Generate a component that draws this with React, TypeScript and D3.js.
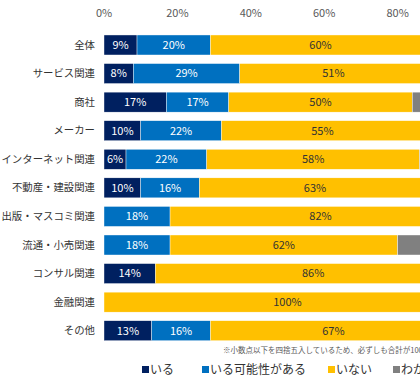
import React, { useEffect, useRef } from 'react';
import * as d3 from 'd3';

const categories = ['全体', 'サービス関連', '商社', 'メーカー', 'インターネット関連', '不動産・建設関連', '出版・マスコミ関連', '流通・小売関連', 'コンサル関連', '金融関連', 'その他'];
const iru = [9, 8, 17, 10, 6, 10, 0, 0, 14, 0, 13];
const kanousei = [20, 29, 17, 22, 22, 16, 18, 18, 0, 0, 16];
const inai = [60, 51, 50, 55, 58, 63, 82, 62, 86, 100, 67];
const wakaranai = [11, 12, 16, 13, 14, 11, 0, 20, 0, 0, 4];
const seriesNames = ['いる', 'いる可能性がある', 'いない', 'わからない'];
const ticks = [0, 20, 40, 60, 80, 100];
const note = '※小数点以下を四捨五入しているため、必ずしも合計が100%にならない';

const colors = ['#002060', '#0070C0', '#FFC000', '#808080'];
const textColors = ['#ffffff', '#ffffff', '#333333', '#ffffff'];
const font = '"Noto Sans CJK JP", sans-serif';

const W = 420;
const H = 390;

export default function App() {
  const ref = useRef<SVGSVGElement>(null);

  useEffect(() => {
    const svg = d3.select(ref.current);
    svg.selectAll('*').remove();

    const x = d3.scaleLinear().domain([0, 100]).range([104, 471]);
    const y = d3.scaleBand().domain(categories).range([30.7, 345]).paddingInner(0.3).paddingOuter(0.15);

    const rows = categories.map((c, i) => ({ cat: c, iru: iru[i], kanousei: kanousei[i], inai: inai[i], wakaranai: wakaranai[i] }));
    const keys = ['iru', 'kanousei', 'inai', 'wakaranai'];
    const stacked = d3.stack<any>().keys(keys)(rows);

    // top tick labels
    svg.append('g')
      .selectAll('text')
      .data(ticks)
      .join('text')
      .attr('x', d => x(d))
      .attr('y', 17)
      .attr('text-anchor', 'middle')
      .attr('font-size', 11)
      .attr('font-family', font)
      .attr('fill', '#595959')
      .text(d => d + '%');

    // category labels
    svg.append('g')
      .selectAll('text')
      .data(categories)
      .join('text')
      .attr('x', 95)
      .attr('y', d => y(d)! + y.bandwidth() / 2)
      .attr('dy', '0.35em')
      .attr('text-anchor', 'end')
      .attr('font-size', 10.4)
      .attr('font-family', font)
      .attr('fill', '#333')
      .text(d => d);

    stacked.forEach((layer, li) => {
      const g = svg.append('g');
      g.selectAll('rect')
        .data(layer.filter(d => d[1] - d[0] > 0))
        .join('rect')
        .attr('x', d => x(d[0]))
        .attr('y', d => y(d.data.cat)!)
        .attr('width', d => x(d[1]) - x(d[0]))
        .attr('height', y.bandwidth())
        .attr('fill', colors[li])
        .attr('stroke', '#ffffff')
        .attr('stroke-width', 0.4);
      g.selectAll('text')
        .data(layer.filter(d => d[1] - d[0] > 0))
        .join('text')
        .attr('x', d => (x(d[0]) + x(d[1])) / 2)
        .attr('y', d => y(d.data.cat)! + y.bandwidth() / 2)
        .attr('dy', '0.35em')
        .attr('text-anchor', 'middle')
        .attr('font-size', 11)
        .attr('font-family', font)
        .attr('fill', textColors[li])
        .text(d => (d[1] - d[0]) + '%');
    });

    // footnote
    svg.append('text')
      .attr('x', 223)
      .attr('y', 353)
      .attr('font-size', 7.5)
      .attr('font-family', font)
      .attr('fill', '#595959')
      .text(note);

    // legend
    const legendX = [142, 202, 328, 393];
    const lg = svg.append('g')
      .selectAll('g')
      .data(seriesNames)
      .join('g')
      .attr('transform', (d, i) => `translate(${legendX[i]},370)`);
    lg.append('rect')
      .attr('x', 0)
      .attr('y', -4)
      .attr('width', 7)
      .attr('height', 7)
      .attr('fill', (d, i) => colors[i]);
    lg.append('text')
      .attr('x', 8)
      .attr('y', 0)
      .attr('dy', '0.35em')
      .attr('font-size', 12)
      .attr('font-family', font)
      .attr('fill', '#333')
      .text(d => d);
  }, []);

  return (
    <svg ref={ref} width={W} height={H} style={{ position: 'absolute', left: 0, top: 0, background: '#fff' }} />
  );
}
